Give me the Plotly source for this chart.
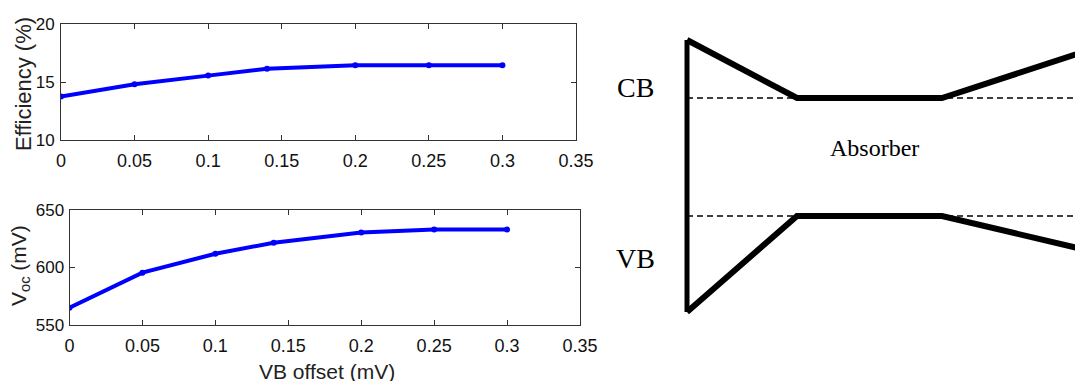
import plotly.graph_objects as go

# ---- data ----
vb_offset = [0, 0.05, 0.1, 0.14, 0.2, 0.25, 0.3]
efficiency = [13.75, 14.8, 15.55, 16.15, 16.45, 16.45, 16.45]
voc = [565, 595.5, 612, 621.5, 630.5, 633, 633]
x_ticks = [0, 0.05, 0.1, 0.15, 0.2, 0.25, 0.3, 0.35]
x_tick_labels = ["0", "0.05", "0.1", "0.15", "0.2", "0.25", "0.3", "0.35"]
eff_ticks = [10, 15, 20]
voc_ticks = [550, 600, 650]

# band diagram schematic (arbitrary units)
band_x = [687, 797, 942, 1120]
cb_edge = [40, 98, 98, 40]
vb_edge = [312, 216, 216, 258]
contact_x = [687, 687]
contact_y = [40, 312]
dash_x = [687, 1083]
cb_level = 98
vb_level = 216

W, H = 1083, 381
OFF = 8  # page body margin
FONT = "Liberation Sans Narrow, Arial Narrow, Liberation Sans, Arial"
SERIF = "Liberation Serif, Times New Roman, serif"
BLUE = "#0000ff"

def px_x(a, b):
    return [(a - OFF) / W, (b - OFF) / W]

def px_y(top, bottom):
    return [1 - (bottom - OFF) / H, 1 - (top - OFF) / H]

def sx(x):
    return (x - OFF) / W

def sy(y):
    return 1 - (y - OFF) / H

fig = go.Figure()

fig.add_trace(go.Scatter(x=vb_offset, y=efficiency, mode="lines+markers",
                         line=dict(color=BLUE, width=4), marker=dict(color=BLUE, size=6),
                         xaxis="x", yaxis="y", showlegend=False))
fig.add_trace(go.Scatter(x=vb_offset, y=voc, mode="lines+markers",
                         line=dict(color=BLUE, width=4), marker=dict(color=BLUE, size=6),
                         xaxis="x2", yaxis="y2", showlegend=False))

# diagram traces
for ys in (cb_edge, vb_edge):
    fig.add_trace(go.Scatter(x=band_x, y=ys, mode="lines", line=dict(color="black", width=6),
                             xaxis="x3", yaxis="y3", showlegend=False))
fig.add_trace(go.Scatter(x=contact_x, y=contact_y, mode="lines", line=dict(color="black", width=5),
                         xaxis="x3", yaxis="y3", showlegend=False))
for lvl in (cb_level, vb_level):
    fig.add_trace(go.Scatter(x=dash_x, y=[lvl, lvl], mode="lines",
                             line=dict(color="black", width=1.6, dash="6px,4px"),
                             xaxis="x3", yaxis="y3", showlegend=False))

axis_common = dict(showline=True, mirror="ticks", linecolor="#333", linewidth=1,
                   ticks="inside", ticklen=5, tickcolor="#333", showgrid=False, zeroline=False,
                   automargin=False)
x_tickfont = dict(family=FONT, size=18, color="#111")
y_tickfont = dict(family=FONT, size=17, color="#111")
title_font = dict(family=FONT, size=21, color="#222")

fig.update_layout(
    width=W, height=H, margin=dict(l=0, r=0, t=0, b=0, autoexpand=False),
    paper_bgcolor="white", plot_bgcolor="rgba(0,0,0,0)",
    xaxis=dict(domain=px_x(61, 576), range=[0, 0.35], tickvals=x_ticks, ticktext=x_tick_labels,
               anchor="y", ticklabelstandoff=4, tickfont=x_tickfont, **axis_common),
    yaxis=dict(domain=px_y(24, 140), range=[10, 20], tickvals=eff_ticks, anchor="x",
               ticklabelstandoff=2, tickfont=y_tickfont, **axis_common),
    xaxis2=dict(domain=px_x(69.5, 580), range=[0, 0.35], tickvals=x_ticks, ticktext=x_tick_labels,
                anchor="y2", ticklabelstandoff=4, tickfont=x_tickfont, **axis_common),
    yaxis2=dict(domain=px_y(210, 325), range=[550, 650], tickvals=voc_ticks, anchor="x2",
                ticklabelstandoff=1, tickfont=y_tickfont, **axis_common),
    xaxis3=dict(domain=[0, 1], range=[OFF, W + OFF], visible=False, anchor="y3"),
    yaxis3=dict(domain=[0, 1], range=[H + OFF, OFF], visible=False, anchor="x3"),
)

# axis titles
ann = dict(xref="paper", yref="paper", showarrow=False, xanchor="center", yanchor="middle")
fig.add_annotation(text="Efficiency (%)", x=sx(24), y=sy(84), textangle=-90,
                   font=dict(family=FONT, size=22, color="#222"), **ann)
fig.add_annotation(text="V<sub>oc</sub> (mV)", x=sx(20), y=sy(266), textangle=-90,
                   font=title_font, **ann)
fig.add_annotation(text="VB offset (mV)", x=sx(327), y=sy(371), font=title_font, **ann)

# diagram labels
fig.add_annotation(text="CB", x=635, y=87, xref="x3", yref="y3", showarrow=False,
                   font=dict(family=SERIF, size=28, color="black"))
fig.add_annotation(text="VB", x=635, y=258, xref="x3", yref="y3", showarrow=False,
                   font=dict(family=SERIF, size=28, color="black"))
fig.add_annotation(text="Absorber", x=874, y=148, xref="x3", yref="y3", showarrow=False,
                   font=dict(family=SERIF, size=24, color="black"))

fig.write_html("out.html")
